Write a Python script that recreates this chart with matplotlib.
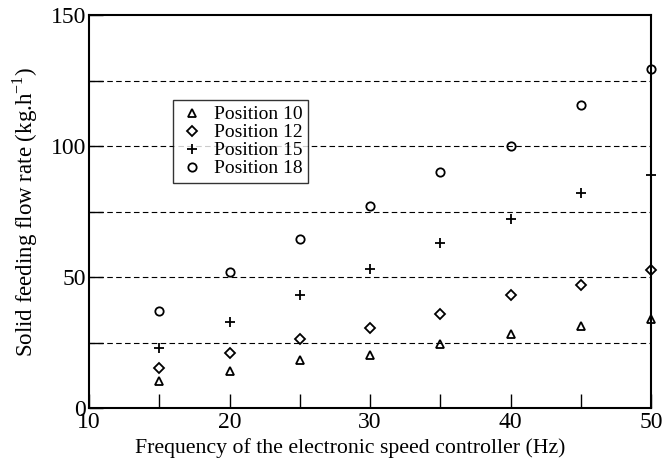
import numpy as np
import matplotlib.pyplot as plt

plt.rcParams['font.family'] = ['Liberation Serif', 'DejaVu Serif']
plt.rcParams['mathtext.fontset'] = 'custom'
plt.rcParams['mathtext.rm'] = 'Liberation Serif'

freq = [15, 20, 25, 30, 35, 40, 45, 50]
pos10 = [10.3, 14.1, 18.3, 20.2, 24.4, 28.2, 31.3, 34.1]
pos12 = [15.3, 21.0, 26.3, 30.6, 36.0, 43.1, 46.9, 52.7]
pos15 = [22.9, 32.9, 43.1, 53.0, 63.0, 72.1, 82.0, 88.9]
pos18 = [37.0, 52.0, 64.5, 77.1, 90.0, 100.0, 115.6, 129.4]

fig = plt.figure(figsize=(6.65, 4.59), dpi=100)
ax = fig.add_axes([89/665, 1-408/459, (651-89)/665, (408-15)/459])

for y in [25, 50, 75, 100, 125]:
    ax.axhline(y, color='black', lw=0.8, ls=(0, (5, 3)), zorder=0)

kw = dict(ls='none', mfc='none', mec='black', mew=1.3, ms=6, clip_on=False)
ax.plot(freq, pos10, marker='^', label='Position 10', **kw)
ax.plot(freq, pos12, marker='D', label='Position 12', **dict(kw, ms=5))
ax.plot(freq, pos15, marker='+', label='Position 15', **dict(kw, ms=7))
ax.plot(freq, pos18, marker='o', label='Position 18', **kw)

ax.set_xlim(10, 50)
ax.set_ylim(0, 150)
ax.set_xticks([10, 20, 30, 40, 50])
ax.set_xticks([15, 25, 35, 45], minor=True)
ax.set_yticks([0, 50, 100, 150])
ax.set_yticks([25, 75, 125], minor=True)
ax.tick_params(direction='in', labelsize=17, length=10, width=1, top=False, right=False, pad=2)
ax.tick_params(axis='x', pad=3)
ax.tick_params(which='minor', direction='in', length=10, width=1, top=False, right=False)
for s in ax.spines.values():
    s.set_linewidth(1.5)

ax.set_xlabel('Frequency of the electronic speed controller (Hz)', fontsize=15.7, va='bottom')
ax.xaxis.set_label_coords((350-89)/562, (408-458)/393)
ax.set_ylabel('Solid feeding flow rate (kg.h$^{-1}$)', fontsize=16.5, labelpad=8)

leg = ax.legend(loc='upper left', bbox_to_anchor=((173-89)/562, (408-100)/393),
                fontsize=14, frameon=True, fancybox=False, edgecolor='black',
                handletextpad=0.4, borderpad=0.3, labelspacing=0.02, handlelength=1.4,
                borderaxespad=0)
leg.get_frame().set_linewidth(1.0)

fig.savefig('out.png', dpi=100)
